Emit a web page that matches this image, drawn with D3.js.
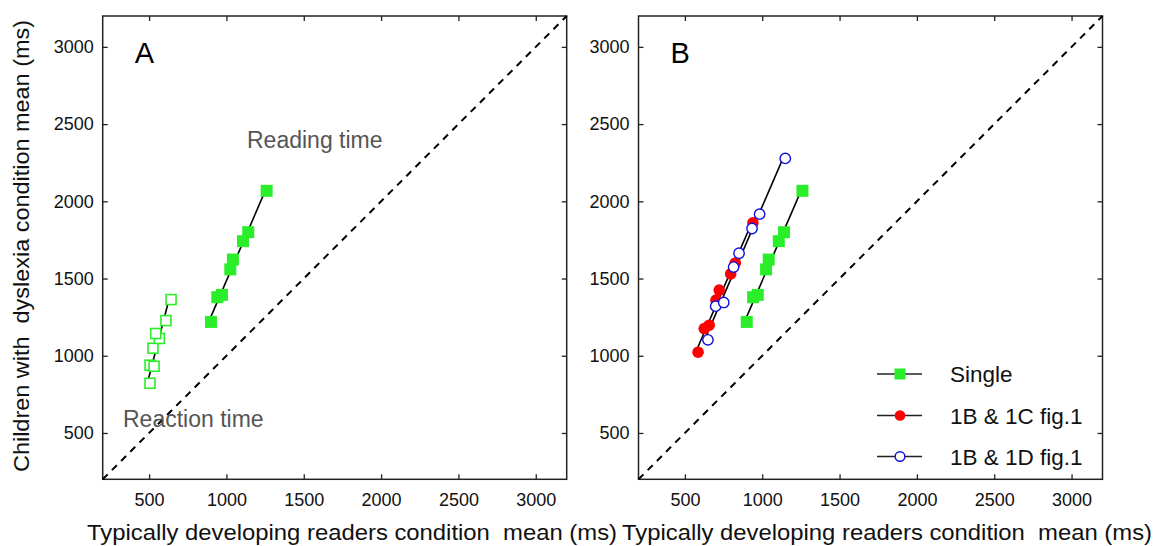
<!DOCTYPE html>
<html>
<head>
<meta charset="utf-8">
<script src="https://cdn.jsdelivr.net/npm/d3@7"></script>
<style>
body{margin:0;background:#fff}
text{font-family:"Liberation Sans",Arial,Helvetica,sans-serif}
</style>
</head>
<body>
<script>
// reading time, single words (both panels)
var singleX = [900, 941, 971, 1025, 1042, 1107, 1141, 1260];
var singleY = [1219, 1379, 1394, 1559, 1623, 1742, 1800, 2068];
// reaction time (panel A, open squares)
var reactX = [506, 506, 532, 525, 566, 543, 609, 642];
var reactY = [822, 939, 932, 1049, 1112, 1144, 1228, 1364];
// 1B & 1C fig.1 (red)
var redX = [585, 625, 657, 701, 722, 796, 826, 940];
var redY = [1023, 1176, 1198, 1360, 1425, 1530, 1601, 1861];
// 1B & 1D fig.1 (blue open)
var blueX = [649, 699, 751, 815, 850, 934, 983, 1149];
var blueY = [1103, 1321, 1345, 1574, 1664, 1824, 1917, 2278];

var tickVals = [500, 1000, 1500, 2000, 2500, 3000];
var legendNames = ['Single', '1B & 1C fig.1', '1B & 1D fig.1'];
var xTitle = 'Typically developing readers condition  mean (ms)';
var yTitle = 'Children with  dyslexia condition mean (ms)';

var green = '#2bee2b', red = '#ff0000', blue = '#1010dd';

var svg = d3.select('body').append('svg')
	.attr('width', 1158)
	.attr('height', 546);

var dom = [200, 3200];
var top0 = 16, bot0 = 479.3;
var y = d3.scaleLinear().domain(dom).range([bot0, top0]);
var fmt = d3.format('d');

function fit(xs, ys){
	// least squares x = a + b*y (lines are steep)
	var my = d3.mean(ys), mx = d3.mean(xs);
	var num = d3.sum(ys, (v,i)=>(v-my)*(xs[i]-mx));
	var den = d3.sum(ys, v=>(v-my)*(v-my));
	var b = num/den, a = mx - b*my;
	var e = d3.extent(ys);
	return [[a+b*e[0], e[0]], [a+b*e[1], e[1]]];
}

function panel(left, right, letter){
	var x = d3.scaleLinear().domain(dom).range([left, right]);
	var g = svg.append('g');

	var ax = [
		g.append('g').attr('transform','translate(0,'+bot0+')')
			.call(d3.axisBottom(x).tickValues(tickVals).tickFormat(fmt).tickSizeInner(-5).tickSizeOuter(0).tickPadding(14)),
		g.append('g').attr('transform','translate(0,'+top0+')')
			.call(d3.axisTop(x).tickValues(tickVals).tickSizeInner(-5).tickSizeOuter(0).tickFormat('')),
		g.append('g').attr('transform','translate('+left+',0)')
			.call(d3.axisLeft(y).tickValues(tickVals).tickFormat(fmt).tickSizeInner(-5).tickSizeOuter(0).tickPadding(9)),
		g.append('g').attr('transform','translate('+right+',0)')
			.call(d3.axisRight(y).tickValues(tickVals).tickSizeInner(-5).tickSizeOuter(0).tickFormat(''))
	];
	ax.forEach(function(a){
		a.select('.domain').remove();
		a.selectAll('.tick line').attr('stroke','#222').attr('stroke-width',1.3);
		a.selectAll('text').attr('font-size',18).attr('font-family','"Liberation Sans",Arial,sans-serif').attr('fill','#111');
	});

	g.append('rect')
		.attr('x', left).attr('y', top0)
		.attr('width', right-left).attr('height', bot0-top0)
		.attr('fill','none').attr('stroke','#222').attr('stroke-width',1.5);

	g.append('line')
		.attr('x1', x(dom[0])).attr('y1', y(dom[0]))
		.attr('x2', x(dom[1])).attr('y2', y(dom[1]))
		.attr('stroke','#000').attr('stroke-width',2)
		.attr('stroke-dasharray','7,6');

	g.append('text')
		.attr('x', left+32).attr('y', 63)
		.attr('font-size', 29)
		.text(letter);

	return {x:x, g:g};
}

function fitLine(p, xs, ys){
	var pts = fit(xs, ys);
	p.g.append('line')
		.attr('x1', p.x(pts[0][0])).attr('y1', y(pts[0][1]))
		.attr('x2', p.x(pts[1][0])).attr('y2', y(pts[1][1]))
		.attr('stroke','#000').attr('stroke-width',1.6);
}

function squares(p, xs, ys, filled){
	var s = filled ? 12 : 10;
	p.g.append('g').selectAll('rect')
		.data(xs)
		.enter()
		.append('rect')
		.attr('x', (d)=>p.x(d)-s/2)
		.attr('y', (d,i)=>y(ys[i])-s/2)
		.attr('width', s).attr('height', s)
		.attr('fill', filled ? green : '#fff')
		.attr('stroke', green)
		.attr('stroke-width', filled ? 0 : 1.6);
}

function circles(p, xs, ys, color, filled){
	p.g.append('g').selectAll('circle')
		.data(xs)
		.enter()
		.append('circle')
		.attr('cx', (d)=>p.x(d))
		.attr('cy', (d,i)=>y(ys[i]))
		.attr('r', filled ? 5.8 : 5.2)
		.attr('fill', filled ? color : '#fff')
		.attr('stroke', color)
		.attr('stroke-width', filled ? 0 : 1.4);
}

// panel A
var A = panel(102.7, 566.7, 'A');
fitLine(A, reactX, reactY);
fitLine(A, singleX, singleY);
squares(A, reactX, reactY, false);
squares(A, singleX, singleY, true);

A.g.append('text').attr('x', 247).attr('y', 148).attr('font-size', 23).attr('fill','#555').text('Reading time');
A.g.append('text').attr('x', 123).attr('y', 427).attr('font-size', 23).attr('fill','#555').text('Reaction time');

// panel B
var B = panel(638.5, 1102.5, 'B');
fitLine(B, redX, redY);
fitLine(B, blueX, blueY);
fitLine(B, singleX, singleY);
circles(B, redX, redY, red, true);
circles(B, blueX, blueY, blue, false);
squares(B, singleX, singleY, true);

// legend
var leg = B.g.append('g').attr('transform','translate(877,0)');
var rowsY = [374, 415.5, 456.5];
leg.selectAll('line.l')
	.data(legendNames)
	.enter()
	.append('line')
	.attr('x1', 0).attr('x2', 45)
	.attr('y1', (d,i)=>rowsY[i]).attr('y2', (d,i)=>rowsY[i])
	.attr('stroke','#222').attr('stroke-width',1.4);
leg.append('rect').attr('x', 23-5.5).attr('y', rowsY[0]-5.5).attr('width', 11).attr('height', 11).attr('fill', green);
leg.append('circle').attr('cx', 23).attr('cy', rowsY[1]).attr('r', 5.3).attr('fill', red);
leg.append('circle').attr('cx', 23).attr('cy', rowsY[2]).attr('r', 4.8).attr('fill', '#fff').attr('stroke', blue).attr('stroke-width', 1.4);
leg.selectAll('text')
	.data(legendNames)
	.enter()
	.append('text')
	.attr('x', 73)
	.attr('y', (d,i)=>rowsY[i]+8)
	.attr('font-size', 22.5)
	.attr('fill','#111')
	.text((d)=>d);

// axis titles
svg.append('text')
	.attr('x', 87).attr('y', 540)
	.attr('font-size', 22)
	.style('white-space','pre')
	.attr('textLength', 530).attr('lengthAdjust','spacingAndGlyphs')
	.attr('fill','#111')
	.text(xTitle);
svg.append('text')
	.attr('x', 622).attr('y', 540)
	.attr('font-size', 22)
	.style('white-space','pre')
	.attr('textLength', 530).attr('lengthAdjust','spacingAndGlyphs')
	.attr('fill','#111')
	.text(xTitle);
svg.append('text')
	.attr('transform','translate(29,246) rotate(-90)')
	.attr('text-anchor','middle')
	.attr('font-size', 22)
	.style('white-space','pre')
	.attr('textLength', 452).attr('lengthAdjust','spacingAndGlyphs')
	.attr('fill','#111')
	.text(yTitle);
</script>
</body>
</html>
